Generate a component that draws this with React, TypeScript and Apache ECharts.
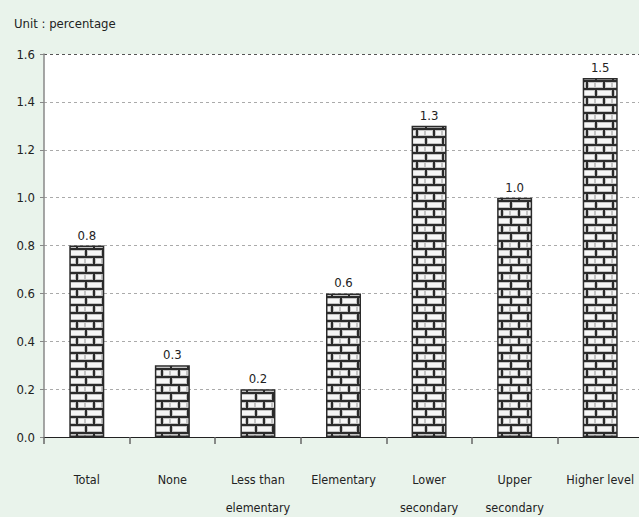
import React, { useEffect, useRef } from "react";
import * as echarts from "echarts";

const categories = [
  "Total",
  "None",
  "Less than\nelementary",
  "Elementary",
  "Lower\nsecondary",
  "Upper\nsecondary",
  "Higher level",
];
const values = [0.8, 0.3, 0.2, 0.6, 1.3, 1.0, 1.5];
const yMin = 0;
const yMax = 1.6;
const yInterval = 0.2;
const title = "Unit : percentage";

const FONT = "'DejaVu Sans Condensed', 'DejaVu Sans', sans-serif";

function makeBrick(): HTMLCanvasElement {
  const w = 17;
  const h = 16;
  const c = document.createElement("canvas");
  c.width = w;
  c.height = h;
  const ctx = c.getContext("2d")!;
  ctx.fillStyle = "#2b2b2b";
  ctx.fillRect(0, 0, w, h);
  const brick = (x: number, y: number, bw: number, bh: number) => {
    ctx.fillStyle = "#c4c4c4";
    ctx.fillRect(x, y, bw, bh);
    ctx.fillStyle = "#f6f6f6";
    ctx.fillRect(x + 1, y + 1, bw - 2, bh - 2);
  };
  brick(0, 2, 8, 6);
  brick(10, 2, 7, 6);
  brick(2, 10, 15, 6);
  return c;
}

export default function App() {
  const ref = useRef<HTMLDivElement>(null);
  useEffect(() => {
    document.body.style.margin = "0";
    const chart = echarts.init(ref.current!, undefined, { renderer: "svg" });
    const brick = makeBrick();
    const gridColors = ["#aaaaaa", "#aaaaaa", "#aaaaaa", "#aaaaaa", "#aaaaaa", "#aaaaaa", "#aaaaaa", "#aaaaaa", "#555555"];
    chart.setOption({
      animation: false,
      backgroundColor: "#e9f3eb",
      textStyle: { fontFamily: FONT },
      title: {
        text: title,
        left: 9,
        top: 12,
        textStyle: { fontFamily: FONT, fontSize: 13, fontWeight: "normal", color: "#222" },
      },
      grid: {
        left: 44,
        top: 54,
        width: 599,
        height: 383,
        show: true,
        backgroundColor: "#ffffff",
        borderWidth: 0,
        containLabel: false,
        outerBoundsMode: "none",
      },
      xAxis: {
        type: "category",
        data: categories,
        axisLine: { lineStyle: { color: "#222", width: 1 } },
        axisTick: { show: true, length: 7, lineStyle: { color: "#666", width: 1.5 } },
        axisLabel: {
          interval: 0,
          margin: 28,
          fontSize: 12.5,
          lineHeight: 28,
          color: "#222",
          verticalAlign: "top",
          fontFamily: FONT,
        },
      },
      yAxis: {
        type: "value",
        min: yMin,
        max: yMax,
        interval: yInterval,
        axisLine: { show: true, lineStyle: { color: "#888", width: 1.5 } },
        axisTick: { show: true, length: 4, lineStyle: { color: "#888" } },
        axisLabel: {
          fontSize: 13,
          color: "#222",
          margin: 9,
          fontFamily: FONT,
          formatter: (v: number) => v.toFixed(1),
        },
        splitLine: {
          show: true,
          lineStyle: { type: [3, 3], color: gridColors, width: 1 },
        },
      },
      series: [
        {
          type: "bar",
          data: values,
          barWidth: 35,
          itemStyle: {
            color: { image: brick, repeat: "repeat", imageWidth: 17, imageHeight: 16 },
            borderColor: "#2b2b2b",
            borderWidth: 1.5,
          },
          label: {
            show: true,
            position: "top",
            distance: 4,
            fontSize: 13,
            color: "#222",
            fontFamily: FONT,
            formatter: (p: any) => Number(p.value).toFixed(1),
          },
        },
      ],
    });
    return () => chart.dispose();
  }, []);
  return <div ref={ref} style={{ width: 639, height: 517 }} />;
}
